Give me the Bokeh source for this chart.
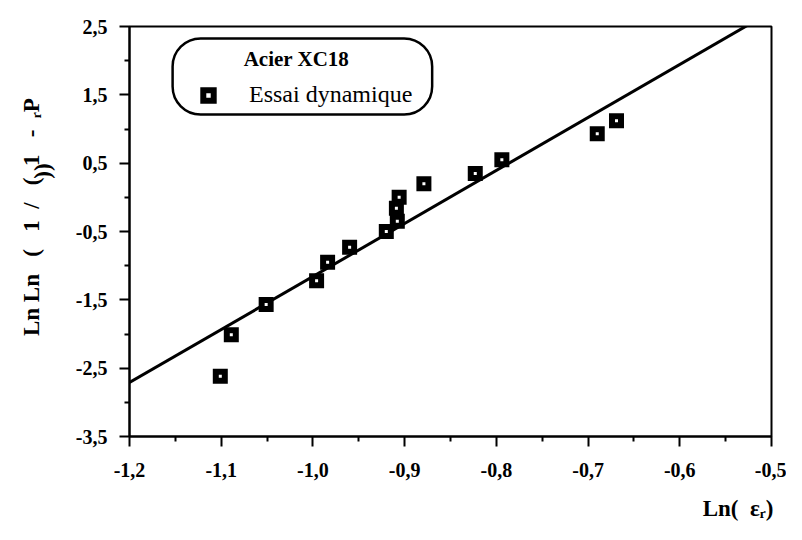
import numpy as np
from bokeh.plotting import figure
from bokeh.models import (Range1d, FixedTicker, CustomJSTickFormatter, Label,
                          BoxAnnotation, Legend, LegendItem)
from bokeh.embed import file_html
from bokeh.resources import INLINE

# ---- data ----
ln_eps = [-1.101, -1.089, -1.051, -0.996, -0.984, -0.960, -0.920,
          -0.908, -0.909, -0.906, -0.879, -0.823, -0.794, -0.690, -0.669]
lnln_p = [-2.62, -2.01, -1.57, -1.22, -0.95, -0.73, -0.50,
          -0.35, -0.16, 0.00, 0.20, 0.35, 0.55, 0.93, 1.12]
fit_x = [-1.2, -0.5]
fit_y = [-2.71, 2.72]

x_ticks = [-1.2, -1.1, -1.0, -0.9, -0.8, -0.7, -0.6, -0.5]
x_minor = [-1.15, -1.05, -0.95, -0.85, -0.75, -0.65, -0.55]
y_ticks = [2.5, 1.5, 0.5, -0.5, -1.5, -2.5, -3.5]
y_minor = [2.0, 1.0, 0.0, -1.0, -2.0, -3.0]

NB = "\u00a0"
title_text = "Acier XC18"
series_name = "Essai dynamique"
y_label = (NB * 5 + "Ln Ln" + NB * 3 + "(" + NB * 3 + "1" + NB * 2 + "/" + NB * 3 + "("
           + NB * 2 + "1" + NB * 3 + "-" + NB * 2 + "\u1d63P"
           + "\n" + NB * 21 + "))")
x_label = NB * 100 + "Ln(" + NB * 2 + "\u03b5\u1d63)"

FONT = "Liberation Serif"

p = figure(width=786, height=524, output_backend="svg", toolbar_location=None,
           x_range=Range1d(-1.2, -0.5), y_range=Range1d(-3.5, 2.5),
           min_border_left=129, min_border_right=15, min_border_top=26,
           min_border_bottom=88)
p.grid.visible = False
p.outline_line_color = "black"
p.outline_line_width = 2
p.background_fill_color = "white"
p.border_fill_color = "white"

fmt = CustomJSTickFormatter(code="return tick.toFixed(1).replace('.', ',');")
for ax, maj, mnr in ((p.xaxis[0], x_ticks, x_minor), (p.yaxis[0], y_ticks, y_minor)):
    ax.ticker = FixedTicker(ticks=maj, minor_ticks=mnr)
    ax.formatter = fmt
    ax.axis_line_width = 2
    ax.major_tick_line_width = 2
    ax.minor_tick_line_width = 2
    ax.major_tick_out = 10
    ax.major_tick_in = 0
    ax.minor_tick_out = 5
    ax.minor_tick_in = 0
    ax.major_label_text_font = FONT
    ax.major_label_text_font_style = "bold"
    ax.major_label_text_font_size = "20px"
    ax.major_label_text_color = "black"
    ax.major_label_standoff = 12

# x axis label (shifted right with leading no-break spaces)
xa = p.xaxis[0]
xa.major_label_standoff = 16
xa.axis_label = x_label
xa.axis_label_text_font = FONT
xa.axis_label_text_font_style = "bold"
xa.axis_label_text_font_size = "23px"
xa.axis_label_text_color = "black"
xa.axis_label_standoff = 16

# y axis label
ya = p.yaxis[0]
ya.axis_label = y_label
ya.axis_label_text_font = FONT
ya.axis_label_text_font_style = "bold"
ya.axis_label_text_font_size = "23px"
ya.axis_label_text_color = "black"
ya.axis_label_text_line_height = 0.45
ya.axis_label_standoff = 18

# fitted line
p.line(fit_x, fit_y, line_color="black", line_width=3)

# data points
pts = p.scatter(ln_eps, lnln_p, marker="square", size=9, line_width=6,
                line_color="black", fill_color="white", line_join="miter")

# legend frame (rounded)
box = BoxAnnotation(left=-1.153, right=-0.870, top=2.324, bottom=1.212,
                    fill_alpha=0, line_color="black", line_alpha=1,
                    line_width=2.5, border_radius=28)
p.add_layout(box)

p.add_layout(Label(x=-1.018, y=2.02, text=title_text, text_font=FONT,
                   text_font_style="bold", text_font_size="21px",
                   text_color="black",
                   text_align="center", text_baseline="middle"))

leg = Legend(items=[LegendItem(label=series_name, renderers=[pts])],
             location=(66, 328), background_fill_alpha=0, border_line_alpha=0,
             padding=0, margin=0, spacing=0, label_standoff=28,
             glyph_width=26, glyph_height=26,
             label_text_font=FONT, label_text_font_size="24px",
             label_text_color="black")
p.add_layout(leg)

open("out.html", "w").write(file_html(p, INLINE))
